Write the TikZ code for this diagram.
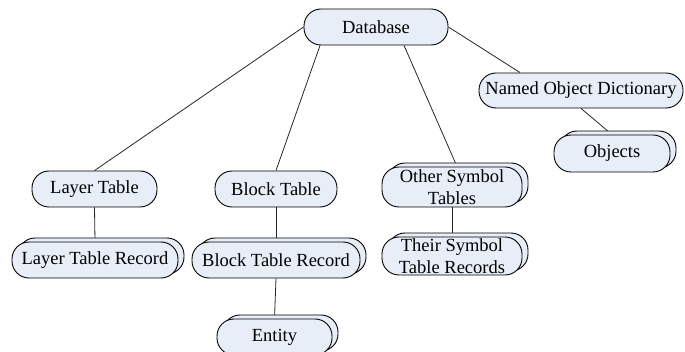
\documentclass[tikz,border=0pt]{standalone}
\usepackage{fontspec}
\setmainfont{Liberation Serif}
\usetikzlibrary{shadows,calc,backgrounds}
\definecolor{boxfill}{RGB}{232,238,247}
\tikzset{
  box/.style={draw=black, line width=0.9pt, fill=boxfill, rounded corners=17pt,
    inner sep=0pt, align=center,
    font=\fontsize{18.5}{21.5}\selectfont},
  stack/.style={box, copy shadow={shadow xshift=6pt, shadow yshift=4pt, draw=black, fill=boxfill, line width=0.9pt}},
  link/.style={draw=black!85, line width=0.8pt}
}
\begin{document}
\begin{tikzpicture}[x=1pt,y=-1pt]
\useasboundingbox (0,0) rectangle (685,352);
\node[box, minimum width=144pt, minimum height=36pt] (db) at (376,27) {Database};
\node[box, minimum width=125pt, minimum height=36pt] (lt) at (94.5,189) {Layer Table};
\node[box, minimum width=122pt, minimum height=36pt] (bt) at (276,189) {Block Table};
\node[box, minimum width=204pt, minimum height=35pt] (nod) at (581,90.5) {Named Object Dictionary};
\node[stack, minimum width=166pt, minimum height=36pt] (ltr) at (95,260) {Layer Table Record};
\node[stack, minimum width=168pt, minimum height=36pt] (btr) at (276,260) {Block Table Record};
\node[stack, minimum width=115pt, minimum height=36pt] (ent) at (274.5,337) {Entity};
\node[stack, minimum width=140pt, minimum height=40pt] (ost) at (452,187) {Other Symbol\\Tables};
\node[stack, minimum width=140pt, minimum height=38pt] (tstr) at (452,256) {Their Symbol\\Table Records};
\node[stack, minimum width=116pt, minimum height=37pt] (obj) at (612,153.5) {Objects};
\begin{scope}[on background layer]
\draw[link] (db.west) -- (lt.north);
\draw[link] ($(db.south)+(-56,0)$) -- (bt.north);
\draw[link] ($(db.south)+(28,0)$) -- ($(ost.north)+(5,0)$);
\draw[link] (db.east) -- ($(nod.north)+(-61,0)$);
\draw[link] (lt.south) -- (ltr.north);
\draw[link] (bt.south) -- (btr.north);
\draw[link] (btr.south) -- (ent.north);
\draw[link] (ost.south) -- (tstr.north);
\draw[link] (nod.south) -- (obj.north);
\end{scope}
\end{tikzpicture}
\end{document}
